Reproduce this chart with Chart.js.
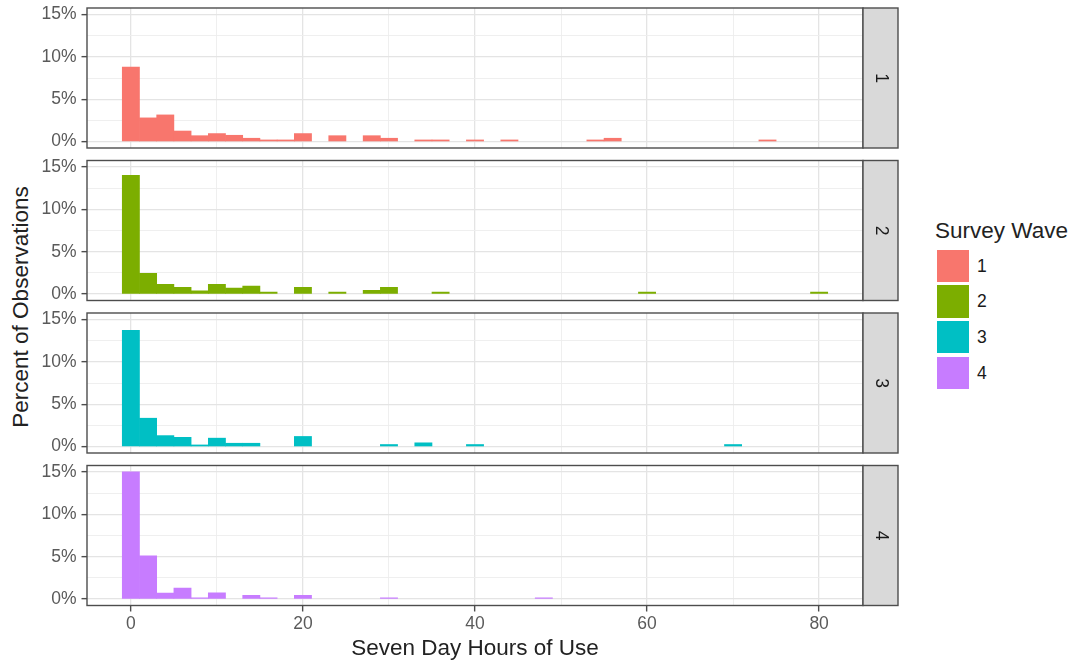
<!DOCTYPE html>
<html>
<head>
<meta charset="utf-8">
<script src="https://cdn.jsdelivr.net/npm/chart.js@4.4.1/dist/chart.umd.min.js"></script>
<style>
html, body { margin: 0; padding: 0; background: #fff; }
#wrap { position: relative; width: 1078px; height: 665px; overflow: hidden;
        font-family: "Liberation Sans", Arial, sans-serif; }
#wrap canvas { position: absolute; left: 0; }
#ytitle { position: absolute; left: 21px; top: 307px; transform: translate(-50%, -50%) rotate(-90deg);
          white-space: nowrap; font-size: 22.5px; line-height: 1; color: #222; }
.legtitle { position: absolute; left: 935px; top: 220px; font-size: 22.5px; line-height: 22.5px; color: #222; white-space: nowrap; }
.legkey { position: absolute; left: 936.5px; width: 32.5px; height: 32.5px; }
.leglab { position: absolute; left: 977px; font-size: 17.5px; line-height: 32.5px; height: 32.5px; color: #1a1a1a; }
</style>
</head>
<body>
<div id="wrap"><div id="ytitle"></div></div>
<script>
// ---- data (percent of observations per 2-hour bin, bin centres) ----
const binCenters = [0,2,4,6,8,10,12,14,16,18,20,22,24,26,28,30,32,34,36,38,40,
                    42,44,46,48,50,52,54,56,58,60,62,64,66,68,70,72,74,76,78,80];
const wave1 = [8.8,2.8,3.15,1.25,0.7,0.95,0.75,0.4,0.2,0.2,0.95,0,0.7,0,0.7,0.4,0,0.2,0.2,0,0.2,
               0,0.2,0,0,0,0,0.2,0.4,0,0,0,0,0,0,0,0,0.2,0,0,0];
const wave2 = [14.0,2.45,1.15,0.8,0.4,1.15,0.7,0.95,0.25,0,0.8,0,0.25,0,0.45,0.8,0,0,0.25,0,0,
               0,0,0,0,0,0,0,0,0,0.25,0,0,0,0,0,0,0,0,0,0.25];
const wave3 = [13.7,3.35,1.3,1.1,0.2,1.0,0.4,0.4,0,0,1.2,0,0,0,0,0.25,0,0.45,0,0,0.25,
               0,0,0,0,0,0,0,0,0,0,0,0,0,0,0.25,0,0,0,0,0];
const wave4 = [15.0,5.1,0.7,1.3,0.15,0.75,0,0.45,0.15,0,0.45,0,0,0,0,0.15,0,0,0,0,0,
               0,0,0,0.15,0,0,0,0,0,0,0,0,0,0,0,0,0,0,0,0];
const waveValues = [wave1, wave2, wave3, wave4];
const waveLabels = ['1','2','3','4'];
const waveColors = ['#F8766D','#7CAE00','#00BFC4','#C77CFF'];
const yMajorTicks = [0,5,10,15];
const yMinorTicks = [2.5,7.5,12.5];
const xMajorTicks = [0,20,40,60,80];
const xMinorTicks = [10,30,50,70];
const xTitle = 'Seven Day Hours of Use';
const yTitle = 'Percent of Observations';
const legendTitle = 'Survey Wave';

// ---- layout ----
const FONT = '"Liberation Sans", Arial, sans-serif';
const PLOT_LEFT = 87, PLOT_RIGHT = 863, PANEL_H = 140, STRIP_W = 35, CANVAS_W = 905;
const canvasTops = [0, 152, 305, 457];
const padTops = [8, 8.5, 8, 8.5];
const GRID_MAJOR = '#E4E4E4', GRID_MINOR = '#EDEDED', FRAME = '#4d4d4d';

const isMajor = (c, list) => !!(c && c.tick && list.includes(c.tick.value));
const noScalePadding = s => { s.paddingTop = 0; s.paddingBottom = 0; s.paddingLeft = 0; s.paddingRight = 0; };

const framePlugin = {
  id: 'frameStrip',
  afterDatasetsDraw(chart, args, opts) {
    const { ctx, chartArea: a } = chart;
    ctx.save();
    ctx.strokeStyle = FRAME; ctx.lineWidth = 1.4;
    ctx.strokeRect(a.left, a.top, a.right - a.left, a.bottom - a.top);
    ctx.fillStyle = '#D9D9D9';
    ctx.fillRect(a.right, a.top, STRIP_W, a.bottom - a.top);
    ctx.strokeRect(a.right, a.top, STRIP_W, a.bottom - a.top);
    ctx.translate(a.right + STRIP_W / 2, (a.top + a.bottom) / 2);
    ctx.rotate(Math.PI / 2);
    ctx.fillStyle = '#1a1a1a';
    ctx.font = '17.5px ' + FONT;
    ctx.textAlign = 'center'; ctx.textBaseline = 'middle';
    ctx.fillText(opts.label, 0, 0);
    ctx.restore();
  }
};

const wrap = document.getElementById('wrap');
document.getElementById('ytitle').textContent = yTitle;

// ---- legend ----
const lt = document.createElement('div');
lt.className = 'legtitle'; lt.textContent = legendTitle; wrap.appendChild(lt);
const keyTops = [249.5, 285.2, 320.9, 356.6];
waveLabels.forEach((lab, i) => {
  const key = document.createElement('div');
  key.className = 'legkey'; key.style.top = keyTops[i] + 'px'; key.style.background = waveColors[i];
  wrap.appendChild(key);
  const t = document.createElement('div');
  t.className = 'leglab'; t.style.top = keyTops[i] + 'px'; t.textContent = lab;
  wrap.appendChild(t);
});

waveValues.forEach((vals, k) => {
  const last = k === waveValues.length - 1;
  const cv = document.createElement('canvas');
  const H = last ? 665 - canvasTops[k] : 165;
  cv.width = CANVAS_W; cv.height = H;
  cv.style.top = canvasTops[k] + 'px';
  cv.style.width = CANVAS_W + 'px'; cv.style.height = H + 'px';
  wrap.appendChild(cv);
  const xAxisH = last ? H - padTops[k] - PANEL_H : 0;
  const padBottom = last ? 0 : H - padTops[k] - PANEL_H;

  new Chart(cv, {
    type: 'bar',
    data: {
      datasets: [{
        label: waveLabels[k],
        data: binCenters.map((x, i) => ({ x: x, y: vals[i] === 0 ? null : vals[i] })),
        backgroundColor: waveColors[k],
        borderWidth: 0,
        barPercentage: 1,
        categoryPercentage: 1,
        grouped: false
      }]
    },
    plugins: [framePlugin],
    options: {
      responsive: false,
      animation: false,
      devicePixelRatio: 1,
      events: [],
      layout: { autoPadding: false, padding: { left: 0, right: CANVAS_W - PLOT_RIGHT, top: padTops[k], bottom: padBottom } },
      plugins: { legend: { display: false }, tooltip: { enabled: false }, frameStrip: { label: waveLabels[k] } },
      scales: {
        x: {
          type: 'linear', position: 'bottom', min: -5.1, max: 85.1, offset: false,
          afterBuildTicks: s => { s.ticks = [...xMajorTicks, ...xMinorTicks].sort((a, b) => a - b).map(v => ({ value: v })); },
          afterFit: s => { s.height = xAxisH; noScalePadding(s); },
          border: { display: false },
          grid: {
            offset: false,
            drawTicks: last, tickLength: 6,
            color: c => isMajor(c, xMajorTicks) ? GRID_MAJOR : GRID_MINOR,
            lineWidth: c => isMajor(c, xMajorTicks) ? 1.3 : 0.9,
            tickColor: c => isMajor(c, xMajorTicks) ? FRAME : 'rgba(0,0,0,0)',
            tickWidth: 1.4
          },
          ticks: {
            display: last, autoSkip: false, maxRotation: 0, padding: 2,
            color: '#5a5a5a', font: { family: FONT, size: 17.5 },
            callback: v => xMajorTicks.includes(v) ? String(v) : ''
          },
          title: {
            display: last, text: xTitle, color: '#222',
            font: { family: FONT, size: 22.5 }, padding: { top: 0, bottom: 2.5 }
          }
        },
        y: {
          type: 'linear', min: -0.75, max: 15.75,
          afterBuildTicks: s => { s.ticks = [...yMajorTicks, ...yMinorTicks].sort((a, b) => a - b).map(v => ({ value: v })); },
          afterFit: s => { s.width = PLOT_LEFT; noScalePadding(s); },
          border: { display: false },
          grid: {
            offset: false,
            drawTicks: true, tickLength: 5.5,
            color: c => isMajor(c, yMajorTicks) ? GRID_MAJOR : GRID_MINOR,
            lineWidth: c => isMajor(c, yMajorTicks) ? 1.3 : 0.9,
            tickColor: c => isMajor(c, yMajorTicks) ? FRAME : 'rgba(0,0,0,0)',
            tickWidth: 1.4
          },
          ticks: {
            autoSkip: false, padding: 5,
            color: '#5a5a5a', font: { family: FONT, size: 17.5 },
            callback: v => yMajorTicks.includes(v) ? v + '%' : ''
          }
        }
      }
    }
  });
});
</script>
</body>
</html>
